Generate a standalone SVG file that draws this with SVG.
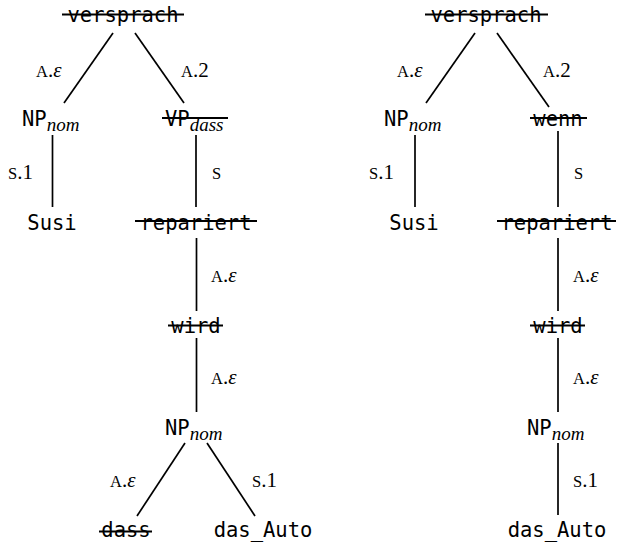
<svg xmlns="http://www.w3.org/2000/svg" width="617" height="543" viewBox="0 0 617 543">
<style>
.n{font-family:"DejaVu Sans Mono",monospace;font-size:20.5px;fill:#000}
.c{text-anchor:middle}
.sub{font-family:"Liberation Serif",serif;font-style:italic;font-size:19px}
.l{font-family:"Liberation Serif",serif;font-size:21px;fill:#000}
.sc{font-size:16.5px}
.e{font-style:italic}
.s{stroke:#000;stroke-width:1.8}
.edges line{stroke:#000;stroke-width:1.7}
</style>
<rect width="617" height="543" fill="#fff"/>
<g class="edges">
<line x1="113" y1="33" x2="64" y2="103"/>
<line x1="135" y1="33" x2="184" y2="103"/>
<line x1="52.5" y1="135" x2="52.5" y2="207"/>
<line x1="196" y1="135" x2="196" y2="207"/>
<line x1="196.5" y1="238" x2="196.5" y2="311"/>
<line x1="196.5" y1="338" x2="196.5" y2="412"/>
<line x1="185" y1="443" x2="137" y2="516"/>
<line x1="207" y1="443" x2="255" y2="516"/>
<line x1="475" y1="33" x2="426" y2="103"/>
<line x1="497" y1="33" x2="549" y2="107"/>
<line x1="415" y1="135" x2="415" y2="207"/>
<line x1="558" y1="131" x2="558" y2="207"/>
<line x1="558" y1="238" x2="558" y2="311"/>
<line x1="558" y1="338" x2="558" y2="412"/>
<line x1="558" y1="443" x2="558" y2="515"/>
</g>
<g id="labels">
<text class="l" x="36" y="77"><tspan class="sc">A</tspan>.<tspan class="e">ε</tspan></text>
<text class="l" x="181" y="77"><tspan class="sc">A</tspan>.2</text>
<text class="l" x="8" y="179"><tspan class="sc">S</tspan>.1</text>
<text class="l" x="212" y="179"><tspan class="sc">S</tspan></text>
<text class="l" x="211" y="282"><tspan class="sc">A</tspan>.<tspan class="e">ε</tspan></text>
<text class="l" x="211" y="384"><tspan class="sc">A</tspan>.<tspan class="e">ε</tspan></text>
<text class="l" x="110" y="487"><tspan class="sc">A</tspan>.<tspan class="e">ε</tspan></text>
<text class="l" x="252" y="487"><tspan class="sc">S</tspan>.1</text>
<text class="l" x="397" y="77"><tspan class="sc">A</tspan>.<tspan class="e">ε</tspan></text>
<text class="l" x="543" y="77"><tspan class="sc">A</tspan>.2</text>
<text class="l" x="369" y="179"><tspan class="sc">S</tspan>.1</text>
<text class="l" x="574" y="179"><tspan class="sc">S</tspan></text>
<text class="l" x="573" y="282"><tspan class="sc">A</tspan>.<tspan class="e">ε</tspan></text>
<text class="l" x="573" y="384"><tspan class="sc">A</tspan>.<tspan class="e">ε</tspan></text>
<text class="l" x="573" y="487"><tspan class="sc">S</tspan>.1</text>
</g>
<g id="L-versprach"><text class="n c" x="123" y="22">versprach</text><line class="s" x1="62" y1="14.5" x2="184" y2="14.5"/></g>
<g id="L-NPnom1"><text class="n" x="22" y="126">NP<tspan class="sub" dy="5">nom</tspan></text></g>
<g id="L-VPdass"><text class="n" x="165" y="126">VP<tspan class="sub" dy="5">dass</tspan></text><line class="s" x1="162" y1="118" x2="228" y2="118"/></g>
<g id="L-Susi"><text class="n c" x="52" y="230">Susi</text></g>
<g id="L-repariert"><text class="n c" x="196" y="230">repariert</text><line class="s" x1="135" y1="221" x2="257" y2="221"/></g>
<g id="L-wird"><text class="n c" x="196" y="333">wird</text><line class="s" x1="168" y1="325.5" x2="223" y2="325.5"/></g>
<g id="L-NPnom2"><text class="n" x="165" y="435">NP<tspan class="sub" dy="5">nom</tspan></text></g>
<g id="L-dass"><text class="n c" x="126" y="537">dass</text><line class="s" x1="99" y1="531.5" x2="152" y2="531.5"/></g>
<g id="L-das_Auto"><text class="n c" x="263" y="537">das_Auto</text></g>
<g id="R-versprach"><text class="n c" x="486" y="22">versprach</text><line class="s" x1="425" y1="14.5" x2="548" y2="14.5"/></g>
<g id="R-NPnom1"><text class="n" x="384" y="126">NP<tspan class="sub" dy="5">nom</tspan></text></g>
<g id="R-wenn"><text class="n c" x="558" y="126">wenn</text><line class="s" x1="530" y1="118" x2="587" y2="118"/></g>
<g id="R-Susi"><text class="n c" x="414" y="230">Susi</text></g>
<g id="R-repariert"><text class="n c" x="557" y="230">repariert</text><line class="s" x1="497" y1="221" x2="616" y2="221"/></g>
<g id="R-wird"><text class="n c" x="558" y="333">wird</text><line class="s" x1="530" y1="325.5" x2="585" y2="325.5"/></g>
<g id="R-NPnom2"><text class="n" x="527" y="435">NP<tspan class="sub" dy="5">nom</tspan></text></g>
<g id="R-das_Auto"><text class="n c" x="557" y="537">das_Auto</text></g>
</svg>
